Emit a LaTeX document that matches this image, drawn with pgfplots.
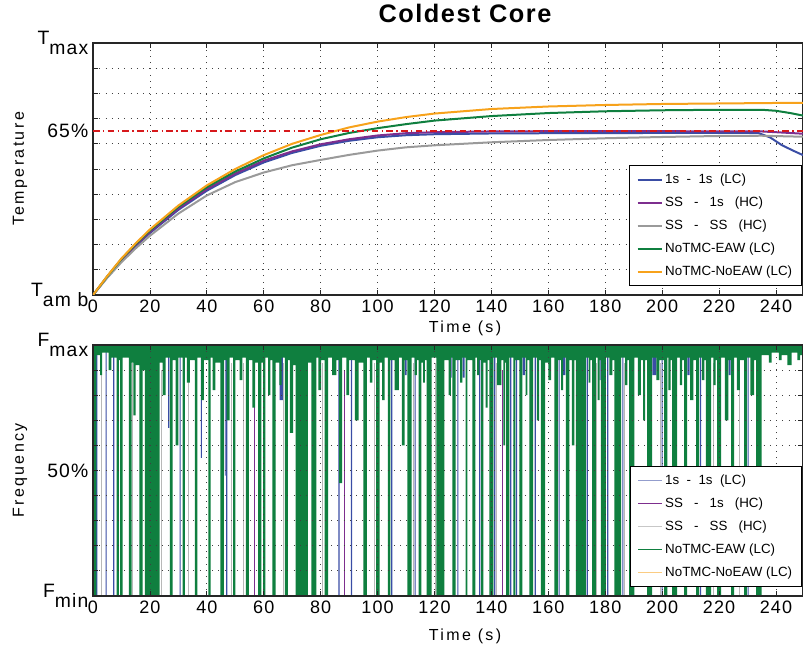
\documentclass[border=0pt]{standalone}
\usepackage{fontspec}
\setmainfont{Liberation Sans}
\newfontfamily\labfont[LetterSpace=15]{Liberation Sans}
\newfontfamily\ttlfont[LetterSpace=6]{Liberation Sans}
\newfontfamily\tickfont[LetterSpace=6]{Liberation Sans}
\usepackage{pgfplots}
\pgfplotsset{compat=1.18}

\definecolor{cblue}{HTML}{3A4DA5}
\definecolor{cpurple}{HTML}{7D2E8E}
\definecolor{cgray}{HTML}{9A9A9A}
\definecolor{cgreen}{HTML}{0F7F3F}
\definecolor{corange}{HTML}{F7A21B}
\definecolor{cred}{HTML}{D7191C}

% shared look of both panels
\pgfplotsset{
  panel/.style={
    scale only axis, width=532.5pt,
    xmin=0, xmax=249.5, ymin=0, ymax=100,
    xtick={0,20,...,240}, ytick={0,10,...,100},
    grid=major,
    major grid style={black!75, line width=0.6pt, dash pattern=on 0.7pt off 4pt},
    axis line style={black!85, line width=1pt},
    tick align=inside, major tick length=4pt,
    every tick/.style={black!85, line width=0.6pt},
    xticklabel style={font=\tickfont\fontsize{13.5}{15}\selectfont},
    yticklabel style={font=\tickfont\fontsize{14.5}{16}\selectfont},
    /pgf/number format/assume math mode=true,
    xlabel={\labfont Time (s)},
    xlabel style={font=\fontsize{12}{14}\selectfont, at={(axis description cs:0.5,0)}, anchor=center, xshift=12.75pt},
    ylabel style={font=\fontsize{12}{14}\selectfont, at={(axis description cs:0,0.5)}, anchor=center, yshift=54.75pt},
    legend style={at={(rel axis cs:0.9986,0.036)}, anchor=south east, draw=black, line width=0.8pt,
      fill=white, font=\fontsize{10}{12}\selectfont, row sep=4.5pt, inner xsep=5pt, inner ysep=4pt,
      cells={anchor=west}},
    legend image code/.code={\draw[#1] (0pt,0pt) -- (18pt,0pt);},
  }
}

\begin{document}
\begin{tikzpicture}

% ---------------- temperature ----------------
\begin{axis}[panel, name=top, at={(0,0)}, anchor=south west, height=189pt,
  yticklabels={{T\raisebox{-0.55em}{am b}},,,,,,,,,,{T\raisebox{-0.55em}{max}}},
  extra y ticks={65}, extra y tick labels={65\%},
  extra y tick style={grid=none, major tick length=0pt},
  xlabel style={yshift=-24.75pt},
  ylabel={\labfont Temperature},
  title={\ttlfont\bfseries Coldest Core},
  title style={font=\fontsize{19}{22}\selectfont, at={(axis description cs:0.5,1)}, anchor=center, yshift=16.5pt, xshift=12.75pt},
]
\addplot[cblue, line width=1.5pt] coordinates {
 (0,0) (5,7) (10,13.6) (15,19.4) (20,24.6) (30,33.8) (40,41.4) (50,47.6) (60,52.6) (70,56.4)
 (80,59.2) (90,61.2) (100,62.6) (110,63.4) (120,63.8) (140,64.1) (160,64.2) (200,64.3) (230,64.3)
 (234,64.2) (238,62.5) (242,59.5) (246,57.3) (249.5,55.5)};
\addlegendentry{1s\ \ -\ \ 1s\ \ (LC)}
\addplot[cpurple, line width=1.5pt] coordinates {
 (0,0) (5,7.2) (10,14) (15,19.8) (20,25) (30,34.3) (40,42) (50,48.2) (60,53.3) (70,57)
 (80,59.8) (90,61.8) (100,63.3) (110,64.2) (120,64.6) (140,64.9) (160,65) (200,65) (235,64.9)
 (240,64.6) (249.5,64)};
\addlegendentry{SS\ \ \ -\ \ \ 1s\ \ \ (HC)}
\addplot[cgray, line width=1.5pt] coordinates {
 (0,0) (5,6.8) (10,13) (15,18.5) (20,23.5) (30,32.3) (40,39.5) (50,44.8) (60,48.6) (70,51.5)
 (80,53.6) (90,55.6) (100,57.3) (110,58.6) (120,59.4) (140,60.6) (160,61.5) (180,62.2) (200,62.7)
 (220,63.1) (235,63.2) (249.5,62.8)};
\addlegendentry{SS\ \ \ -\ \ \ SS\ \ \ (HC)}
\addplot[cgreen, line width=1.5pt] coordinates {
 (0,0) (5,7.4) (10,14.3) (15,20.2) (20,25.6) (30,35) (40,42.8) (50,49) (60,54.2) (70,58.5)
 (80,61.8) (90,64.3) (100,66.2) (110,67.8) (120,69.2) (140,71) (160,72.2) (180,72.9) (200,73.3)
 (220,73.5) (235,73.5) (240,73.1) (245,72.2) (249.5,71.2)};
\addlegendentry{NoTMC-EAW (LC)}
\addplot[corange, line width=1.5pt] coordinates {
 (0,0) (5,7.5) (10,14.5) (15,20.5) (20,26) (30,35.5) (40,43.5) (50,50) (60,55.5) (70,60)
 (80,63.5) (90,66.5) (100,68.8) (110,70.6) (120,72) (140,73.8) (160,74.8) (180,75.4) (200,75.8)
 (220,76) (240,76.2) (249.5,76.2)};
\addlegendentry{NoTMC-NoEAW (LC)}
\addplot[cred, line width=1.3pt, dash pattern=on 5pt off 2.5pt on 1pt off 2.5pt, forget plot]
 coordinates {(0,65) (249.5,65)};
\end{axis}

% ---------------- frequency ----------------
\begin{axis}[panel, name=bot, at={(0,-37.5pt)}, anchor=north west, height=188.25pt,
  axis on top,
  yticklabels={{F\raisebox{-0.55em}{min}},,,,,{50\%},,,,,{F\raisebox{-0.55em}{max}}},
  xlabel style={yshift=-30pt},
  ylabel={\labfont Frequency},
]
% 1s - 1s (LC): drops below full frequency
\addplot[fill=cblue, draw=none, forget plot] coordinates {
 (0,100) (0,99)
 (1.0,99) (1.0,0) (1.5,0) (1.5,99)
 (4.4,99) (4.4,0) (4.8,0) (4.8,99)
 (7.1,99) (7.1,0) (7.5,0) (7.5,99)
 (26.4,99) (26.4,67) (26.8,67) (26.8,99)
 (30.4,99) (30.4,0) (30.8,0) (30.8,99)
 (37.9,99) (37.9,55) (38.3,55) (38.3,99)
 (46.3,99) (46.3,48) (46.6,48) (46.6,99)
 (46.8,99) (46.8,0) (47.2,0) (47.2,99)
 (65.6,99) (65.6,78) (66.7,78) (66.7,99)
 (86.2,99) (86.2,0) (86.7,0) (86.7,99)
 (90.6,99) (90.6,0) (91.1,0) (91.1,99)
 (104.8,99) (104.8,0) (105.2,0) (105.2,99)
 (109.6,99) (109.6,88) (110.2,88) (110.2,99)
 (113.0,99) (113.0,0) (113.4,0) (113.4,99)
 (125.9,99) (125.9,87) (126.2,87) (126.2,99)
 (128.0,99) (128.0,0) (128.4,0) (128.4,99)
 (129.9,99) (129.9,87) (130.6,87) (130.6,99)
 (135.7,99) (135.7,0) (136.1,0) (136.1,99)
 (140.9,99) (140.9,0) (141.4,0) (141.4,99)
 (146.6,99) (146.6,0) (147.0,0) (147.0,99)
 (148.6,99) (148.6,0) (149.0,0) (149.0,99)
 (151.0,99) (151.0,88) (151.8,88) (151.8,99)
 (155.2,99) (155.2,0) (155.6,0) (155.6,99)
 (163.6,99) (163.6,0) (164.0,0) (164.0,99)
 (164.6,99) (164.6,88) (166.0,88) (166.0,99)
 (173.5,99) (173.5,0) (173.9,0) (173.9,99)
 (178.0,99) (178.0,86) (178.4,86) (178.4,99)
 (180.7,99) (180.7,0) (181.1,0) (181.1,99)
 (186.0,99) (186.0,0) (186.4,0) (186.4,99)
 (196.6,99) (196.6,88) (198.0,88) (198.0,99)
 (199.8,99) (199.8,0) (200.2,0) (200.2,99)
 (208.9,99) (208.9,88) (209.7,88) (209.7,99)
 (213.3,99) (213.3,0) (213.7,0) (213.7,99)
 (223.4,99) (223.4,88) (224.1,88) (224.1,99)
 (230.0,99) (230.0,0) (230.4,0) (230.4,99)
 (249.5,99) (249.5,100)};
% SS - 1s (HC)
\addplot[ycomb, cpurple, line width=0.6pt, forget plot] coordinates {
 (56.6,90) (88.2,90) (143.8,90)};
% SS - SS (HC)
\addplot[ycomb, cgray!70, line width=0.6pt, forget plot] coordinates {
 (3.0,93) (14.0,93) (24.0,90) (33.5,93) (48.5,93) (52.8,93) (67.0,93) (80.5,93) (98.8,93)
 (112.5,93) (120.2,93) (141.8,93) (150.3,92) (158.0,93) (176.9,93) (186.8,93) (199.3,93)
 (218.0,93) (227.0,93)};
% NoTMC-EAW (LC)
\addplot[fill=cgreen, draw=none, forget plot] coordinates {
 (0,100) (0,97)
 (0.4,97) (0.4,0) (1.2,0) (1.2,96)
 (2.5,96) (2.5,88) (3.2,88) (3.2,97)
 (5.5,97) (5.5,90) (6.5,90) (6.5,95)
 (8.3,95) (8.3,0) (9.1,0) (9.1,94)
 (9.5,94) (9.5,0) (10.4,0) (10.4,95)
 (12.6,95) (12.6,0) (13.6,0) (13.6,93)
 (14.2,93) (14.2,72) (15.0,72) (15.0,92)
 (16.3,92) (16.3,0) (17.4,0) (17.4,90)
 (18.2,90) (18.2,0) (23.4,0) (23.4,93)
 (24.5,93) (24.5,80) (25.5,80) (25.5,95)
 (27.0,95) (27.0,0) (28.0,0) (28.0,94)
 (29.0,94) (29.0,60) (30.0,60) (30.0,95)
 (31.5,95) (31.5,0) (32.3,0) (32.3,95)
 (33.0,95) (33.0,85) (34.0,85) (34.0,94)
 (35.8,94) (35.8,0) (36.7,0) (36.7,95)
 (38.0,95) (38.0,78) (39.0,78) (39.0,94)
 (40.5,94) (40.5,0) (41.3,0) (41.3,95)
 (42.0,95) (42.0,82) (43.0,82) (43.0,93)
 (44.8,93) (44.8,0) (46.0,0) (46.0,94)
 (47.0,94) (47.0,70) (48.0,70) (48.0,95)
 (49.2,95) (49.2,0) (50.0,0) (50.0,94)
 (51.5,94) (51.5,86) (52.5,86) (52.5,95)
 (53.7,95) (53.7,0) (54.8,0) (54.8,94)
 (56.0,94) (56.0,75) (57.0,75) (57.0,93)
 (58.0,93) (58.0,0) (59.2,0) (59.2,93)
 (59.8,93) (59.8,0) (60.6,0) (60.6,95)
 (61.5,95) (61.5,80) (62.3,80) (62.3,94)
 (63.0,94) (63.0,0) (64.2,0) (64.2,93)
 (65.5,93) (65.5,84) (66.3,84) (66.3,95)
 (67.4,95) (67.4,0) (68.5,0) (68.5,94)
 (69.2,94) (69.2,65) (70.3,65) (70.3,92)
 (71.2,92) (71.2,0) (75.5,0) (75.5,93)
 (76.7,93) (76.7,0) (78.5,0) (78.5,95)
 (79.2,95) (79.2,82) (80.2,82) (80.2,94)
 (81.4,94) (81.4,0) (82.6,0) (82.6,95)
 (84.0,95) (84.0,88) (85.5,88) (85.5,94)
 (86.5,94) (86.5,45) (87.5,45) (87.5,95)
 (89.0,95) (89.0,80) (90.0,80) (90.0,94)
 (92.0,94) (92.0,70) (93.3,70) (93.3,93)
 (95.0,93) (95.0,0) (96.2,0) (96.2,95)
 (97.3,95) (97.3,85) (98.2,85) (98.2,94)
 (99.5,94) (99.5,0) (100.7,0) (100.7,93)
 (101.6,93) (101.6,78) (102.5,78) (102.5,95)
 (103.6,95) (103.6,0) (104.5,0) (104.5,94)
 (106.0,94) (106.0,82) (107.5,82) (107.5,95)
 (108.5,95) (108.5,60) (109.5,60) (109.5,94)
 (110.5,94) (110.5,0) (112.0,0) (112.0,95)
 (113.0,95) (113.0,88) (113.8,88) (113.8,94)
 (114.4,94) (114.4,0) (115.4,0) (115.4,93)
 (116.0,93) (116.0,85) (116.6,85) (116.6,94)
 (117.2,94) (117.2,0) (119.0,0) (119.0,95)
 (120.7,95) (120.7,0) (123.5,0) (123.5,94)
 (125.0,94) (125.0,80) (125.8,80) (125.8,95)
 (126.3,95) (126.3,0) (127.4,0) (127.4,94)
 (129.0,94) (129.0,85) (129.8,85) (129.8,95)
 (130.9,95) (130.9,0) (131.6,0) (131.6,94)
 (133.3,94) (133.3,0) (134.4,0) (134.4,95)
 (135.0,95) (135.0,88) (135.8,88) (135.8,94)
 (136.4,94) (136.4,0) (137.2,0) (137.2,93)
 (138.0,93) (138.0,75) (138.7,75) (138.7,94)
 (139.3,94) (139.3,0) (140.7,0) (140.7,95)
 (142.0,95) (142.0,84) (143.5,84) (143.5,94)
 (144.2,94) (144.2,60) (144.8,60) (144.8,93)
 (145.2,93) (145.2,0) (146.3,0) (146.3,95)
 (147.7,95) (147.7,0) (148.4,0) (148.4,94)
 (149.8,94) (149.8,0) (150.9,0) (150.9,95)
 (152.0,95) (152.0,80) (152.6,80) (152.6,94)
 (153.3,94) (153.3,0) (154.7,0) (154.7,95)
 (156.0,95) (156.0,70) (156.8,70) (156.8,94)
 (157.4,94) (157.4,0) (158.9,0) (158.9,93)
 (160.0,93) (160.0,86) (161.0,86) (161.0,95)
 (162.1,95) (162.1,0) (163.4,0) (163.4,94)
 (164.5,94) (164.5,82) (165.2,82) (165.2,95)
 (166.2,95) (166.2,0) (167.4,0) (167.4,94)
 (168.3,94) (168.3,60) (169.2,60) (169.2,94)
 (169.7,94) (169.7,0) (173.2,0) (173.2,95)
 (174.2,95) (174.2,85) (174.8,85) (174.8,94)
 (175.4,94) (175.4,0) (176.7,0) (176.7,95)
 (177.3,95) (177.3,78) (178.0,78) (178.0,94)
 (178.5,94) (178.5,0) (180.2,0) (180.2,95)
 (181.5,95) (181.5,88) (182.5,88) (182.5,94)
 (183.2,94) (183.2,0) (185.6,0) (185.6,95)
 (187.0,95) (187.0,84) (187.8,84) (187.8,94)
 (188.4,94) (188.4,0) (190.2,0) (190.2,95)
 (191.5,95) (191.5,80) (192.5,80) (192.5,94)
 (193.3,94) (193.3,70) (194.0,70) (194.0,94)
 (194.7,94) (194.7,0) (196.5,0) (196.5,95)
 (198.0,95) (198.0,86) (199.0,86) (199.0,94)
 (200.7,94) (200.7,0) (201.8,0) (201.8,95)
 (202.2,95) (202.2,82) (203.0,82) (203.0,94)
 (203.5,94) (203.5,0) (205.3,0) (205.3,95)
 (206.2,95) (206.2,84) (207.0,84) (207.0,94)
 (207.7,94) (207.7,0) (208.8,0) (208.8,95)
 (209.8,95) (209.8,78) (211.0,78) (211.0,94)
 (211.9,94) (211.9,0) (213.0,0) (213.0,95)
 (214.0,95) (214.0,86) (214.8,86) (214.8,94)
 (215.4,94) (215.4,0) (217.2,0) (217.2,95)
 (218.0,95) (218.0,84) (218.8,84) (218.8,94)
 (219.3,94) (219.3,0) (220.7,0) (220.7,95)
 (222.0,95) (222.0,70) (223.3,70) (223.3,94)
 (224.2,94) (224.2,0) (225.3,0) (225.3,95)
 (226.3,95) (226.3,82) (227.3,82) (227.3,94)
 (228.8,94) (228.8,0) (229.8,0) (229.8,95)
 (231.0,95) (231.0,80) (232.3,80) (232.3,94)
 (233.0,94) (233.0,0) (235.0,0) (235.0,96)
 (237.5,96) (237.5,93) (238.5,93) (238.5,97)
 (241.0,97) (241.0,94) (242.0,94) (242.0,96)
 (244.0,96) (244.0,92) (245.5,92) (245.5,97)
 (247.5,97) (247.5,94) (248.5,94) (248.5,96)
 (249.5,96) (249.5,100)};
% NoTMC-NoEAW (LC): stays at full frequency
\addplot[corange, line width=0.6pt, forget plot] coordinates {(0,100) (249.5,100)};

\addlegendimage{color=cblue!55, line width=0.8pt}
\addlegendentry{1s\ \ -\ \ 1s\ \ (LC)}
\addlegendimage{color=cpurple, line width=0.6pt}
\addlegendentry{SS\ \ \ -\ \ \ 1s\ \ \ (HC)}
\addlegendimage{color=cgray!55, line width=0.8pt}
\addlegendentry{SS\ \ \ -\ \ \ SS\ \ \ (HC)}
\addlegendimage{color=cgreen, line width=0.6pt}
\addlegendentry{NoTMC-EAW (LC)}
\addlegendimage{color=corange!55, line width=0.8pt}
\addlegendentry{NoTMC-NoEAW (LC)}
\end{axis}

\pgfresetboundingbox
\useasboundingbox (-69.75pt,-267.75pt) rectangle (532.5pt,221.25pt);
\end{tikzpicture}
\end{document}
